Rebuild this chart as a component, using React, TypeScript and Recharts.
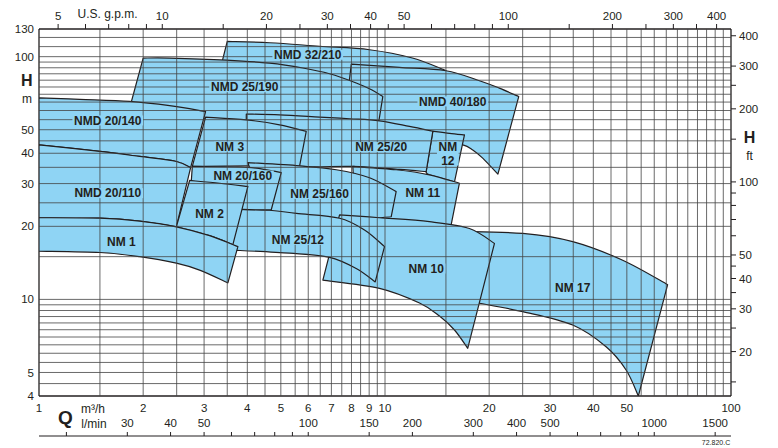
import React from "react";
import { ComposedChart, XAxis, YAxis, Scatter, ReferenceLine } from "recharts";

// Pump working fields, as [flow Q m³/h, head H m].
// top = largest impeller curve, bottom = smallest, both left to right;
// the side edges are the straight lines joining their ends.
const nmd32_210_top: [number, number][] = [[3.5, 115.5], [4.64, 114.1], [6.47, 110.4], [9.02, 106.8], [12.0, 98.7], [15.0, 87.7]];
const nmd32_210_bottom: [number, number][] = [[3.2, 69.7], [5.66, 69.7], [9.64, 66.4], [14.6, 66.4]];
const nmd40_180_top: [number, number][] = [[7.99, 93.2], [11.0, 90.4], [15.0, 87.5], [18.75, 79.6], [21.4, 74.2], [24.35, 68.5]];
const nmd40_180_bottom: [number, number][] = [[7.64, 53.9], [11.0, 49.0], [14.37, 44.6], [16.78, 43.3], [17.93, 41.3], [19.16, 38.2], [21.2, 32.8]];
const nmd25_190_top: [number, number][] = [[2.0, 98.7], [2.385, 98.7], [3.478, 96.8], [4.638, 94.0], [5.788, 89.8], [6.914, 85.0], [8.257, 77.9], [9.143, 73.0], [9.855, 68.5]];
const nmd25_190_bottom: [number, number][] = [[1.816, 59.3], [2.232, 60.4], [2.912, 56.5], [3.217, 53.4], [3.973, 53.4], [6.914, 53.4], [9.597, 54.1]];
const nmd20_140_top: [number, number][] = [[1, 67.7], [1.311, 66.7], [1.828, 65.4], [2.385, 62.8], [3.03, 59.4]];
const nmd20_140_bottom: [number, number][] = [[1, 43.3], [1.5, 40.7], [1.954, 38.8], [2.494, 37.0], [2.743, 34.9]];
const nmd20_110_top: [number, number][] = [[1, 43.3], [1.5, 40.7], [1.954, 38.8], [2.494, 37.0], [2.743, 34.9]];
const nmd20_110_bottom: [number, number][] = [[1, 21.7], [1.5, 21.6], [1.954, 21.0], [2.494, 19.9]];
const nm1_top: [number, number][] = [[1, 21.7], [1.5, 21.6], [1.954, 21.0], [2.494, 19.9], [3.112, 18.3], [3.757, 16.5]];
const nm1_bottom: [number, number][] = [[1, 15.8], [1.5, 15.6], [1.954, 15.0], [2.494, 14.1], [2.912, 13.2], [3.515, 11.7]];
const nm12_top: [number, number][] = [[13.75, 49.3], [15.36, 48.3], [16.97, 47.6]];
const nm12_bottom: [number, number][] = [[13.15, 33.6], [13.44, 32.6], [15.88, 30.5]];
const nm25_20_top: [number, number][] = [[3.973, 58.0], [4.958, 57.6], [6.469, 56.4], [7.897, 55.5], [9.641, 54.4], [11.77, 51.6], [13.75, 49.3]];
const nm25_20_bottom: [number, number][] = [[3.973, 37.6], [5.662, 35.3], [8.072, 35.3], [11.01, 34.3], [13.15, 33.6]];
const nm3_top: [number, number][] = [[3.03, 56.4], [3.973, 54.9], [4.958, 52.4], [5.92, 49.2]];
const nm3_bottom: [number, number][] = [[2.774, 35.3], [4.062, 35.5], [5.662, 35.3]];
const nm11_top: [number, number][] = [[8.072, 35.3], [10.77, 34.2], [13.44, 32.6], [16.41, 30.1]];
const nm11_bottom: [number, number][] = [[8.164, 25.7], [10.3, 20.4], [15.53, 20.3]];
const nm17_top: [number, number][] = [[16.41, 19.05], [25.01, 18.7], [34.87, 17.3], [48.64, 14.5], [65.6, 11.5]];
const nm17_bottom: [number, number][] = [[16.41, 9.95], [18.75, 9.64], [25.01, 8.9], [34.87, 7.84], [43.55, 6.38], [49.75, 5.12], [53.99, 4.0]];
const nm25_160_top: [number, number][] = [[4.016, 36.6], [5.662, 35.5], [7.229, 34.2], [9.022, 31.7], [10.77, 27.8]];
const nm25_160_bottom: [number, number][] = [[4.486, 22.5], [5.542, 22.1], [7.389, 21.1], [10.42, 21.9]];
const nm10_top: [number, number][] = [[7.389, 22.3], [9.641, 21.7], [13.44, 20.9], [17.54, 19.6], [20.72, 17.0]];
const nm10_bottom: [number, number][] = [[6.613, 12.0], [9.641, 11.1], [12.58, 9.66], [14.37, 8.54], [15.88, 7.48], [17.34, 6.29]];
const nm25_12_top: [number, number][] = [[3.508, 23.5], [4.638, 23.3], [5.542, 22.6], [7.389, 21.6], [8.726, 19.3], [9.967, 16.5]];
const nm25_12_bottom: [number, number][] = [[3.508, 16.0], [5.3, 15.5], [6.914, 14.9], [8.257, 13.4], [9.37, 11.8]];
const nm20_160_top: [number, number][] = [[2.774, 35.3], [4.008, 35.0], [5.013, 33.3]];
const nm20_160_bottom: [number, number][] = [[2.725, 24.5], [3.884, 23.5], [4.691, 23.4]];
const nm2_top: [number, number][] = [[2.725, 30.9], [3.326, 30.1], [4.016, 29.2]];
const nm2_bottom: [number, number][] = [[2.494, 19.9], [3.112, 18.3], [3.634, 16.8]];

// back to front, so that hidden edges end up under the next field
const PUMPS = [
  { name: "NMD 32/210", top: nmd32_210_top, bottom: nmd32_210_bottom },
  { name: "NMD 40/180", top: nmd40_180_top, bottom: nmd40_180_bottom },
  { name: "NMD 25/190", top: nmd25_190_top, bottom: nmd25_190_bottom },
  { name: "NMD 20/140", top: nmd20_140_top, bottom: nmd20_140_bottom },
  { name: "NMD 20/110", top: nmd20_110_top, bottom: nmd20_110_bottom },
  { name: "NM 12", top: nm12_top, bottom: nm12_bottom },
  { name: "NM 25/20", top: nm25_20_top, bottom: nm25_20_bottom },
  { name: "NM 3", top: nm3_top, bottom: nm3_bottom },
  { name: "NM 11", top: nm11_top, bottom: nm11_bottom },
  { name: "NM 17", top: nm17_top, bottom: nm17_bottom },
  { name: "NM 25/160", top: nm25_160_top, bottom: nm25_160_bottom },
  { name: "NM 10", top: nm10_top, bottom: nm10_bottom },
  { name: "NM 25/12", top: nm25_12_top, bottom: nm25_12_bottom },
  { name: "NM 20/160", top: nm20_160_top, bottom: nm20_160_bottom },
  { name: "NM 2", top: nm2_top, bottom: nm2_bottom },
  { name: "NM 1", top: nm1_top, bottom: nm1_bottom },
];

const LABELS = [
  { name: "NMD 32/210", q: 5.98, h: 101.8 },
  { name: "NMD 25/190", q: 3.93, h: 74.9 },
  { name: "NMD 40/180", q: 15.7, h: 65.4 },
  { name: "NMD 20/140", q: 1.58, h: 54.6 },
  { name: "NM 3", q: 3.56, h: 42.6 },
  { name: "NM 25/20", q: 9.75, h: 42.4 },
  { name: "NM\n12", q: 15.19, h: 39.9 },
  { name: "NM 20/160", q: 3.88, h: 32.4 },
  { name: "NMD 20/110", q: 1.58, h: 27.4 },
  { name: "NM 25/160", q: 6.47, h: 27.2 },
  { name: "NM 11", q: 12.86, h: 27.4 },
  { name: "NM 2", q: 3.11, h: 22.6 },
  { name: "NM 1", q: 1.73, h: 17.3 },
  { name: "NM 25/12", q: 5.6, h: 17.6 },
  { name: "NM 10", q: 13.15, h: 13.4 },
  { name: "NM 17", q: 34.87, h: 11.2 },
];

const M3H_TICKS = [1, 2, 3, 4, 5, 6, 7, 8, 9, 10, 20, 30, 40, 50, 100];
const LMIN_TICKS = [20, 30, 40, 50, 60, 70, 80, 90, 100, 150, 200, 300, 400, 500, 600, 700, 800, 900, 1000, 1500];
const LMIN_LABELS = [30, 40, 50, 100, 150, 200, 300, 400, 500, 1000, 1500];
const GPM_TICKS = [5, 6, 7, 8, 9, 10, 15, 20, 25, 30, 35, 40, 45, 50, 60, 70, 80, 90, 100, 150, 200, 250, 300, 350, 400];
const GPM_LABELS = [5, 10, 20, 30, 40, 50, 100, 200, 300, 400];
const H_TICKS = [4, 5, 10, 20, 30, 40, 50, 100, 130];
const FT_TICKS = [15, 20, 25, 30, 35, 40, 45, 50, 60, 70, 80, 90, 100, 150, 200, 250, 300, 400];
const FT_LABELS = [20, 30, 40, 50, 100, 200, 300, 400];

const Q_GRID = [1.5, 2, 2.5, 3, 3.5, 4, 4.5, 5, 5.5, 6, 6.5, 7, 7.5, 8, 8.5, 9, 9.5, 10, 15, 20, 25, 30, 35, 40, 45, 50, 55, 60, 65, 70, 75, 80, 85, 90, 95];
const H_GRID = [4.5, 5, 5.5, 6, 6.5, 7, 7.5, 8, 8.5, 9, 9.5, 10, 15, 20, 25, 30, 35, 40, 45, 50, 55, 60, 65, 70, 75, 80, 85, 90, 95, 100, 110, 120];

const FILL = "#8fd4f4";
const INK = "#231f20";
const GRID = "#444";
const FONT = '"Liberation Sans", Arial, Helvetica, sans-serif';
const TICK = { fill: INK, fontSize: 11.5 };

// unit conversions for the secondary scales
const GPM_PER_M3H = 4.40287;
const LMIN_PER_M3H = 16.6667;
const FT_PER_M = 3.28084;

function only(list: number[]) {
  return (v: number) => (list.includes(v) ? String(v) : "");
}

// Catmull-Rom through the points, as cubic Béziers (no leading M)
function spline(p: { x: number; y: number }[]) {
  let d = "";
  for (let i = 0; i < p.length - 1; i++) {
    const p0 = p[i - 1] || p[i];
    const p1 = p[i];
    const p2 = p[i + 1];
    const p3 = p[i + 2] || p2;
    const c1x = p1.x + (p2.x - p0.x) / 6;
    const c1y = p1.y + (p2.y - p0.y) / 6;
    const c2x = p2.x - (p3.x - p1.x) / 6;
    const c2y = p2.y - (p3.y - p1.y) / 6;
    d += `C${c1x},${c1y} ${c2x},${c2y} ${p2.x},${p2.y}`;
  }
  return d;
}

function outliner(nTop: number) {
  return (props: any) => {
    const pts = props.points || [];
    if (pts.length < 2) return <g />;
    const top = pts.slice(0, nTop);
    const back = pts.slice(nTop);
    const d =
      `M${top[0].x},${top[0].y}` + spline(top) + `L${back[0].x},${back[0].y}` + spline(back) + "Z";
    return <path d={d} fill={FILL} stroke={INK} strokeWidth={1.2} strokeLinejoin="round" />;
  };
}

function noDot() {
  return <g />;
}

function charW(ch: string) {
  if (ch === "M") return 10;
  if (/[A-Z]/.test(ch)) return 8.7;
  if (/[0-9]/.test(ch)) return 6.7;
  return 3.4;
}

function PumpLabel(props: any) {
  const { cx, cy, payload } = props;
  if (cx == null || cy == null) return <g />;
  const lines = String(payload.name).split("\n");
  const w = Math.max(...lines.map((l) => l.split("").reduce((s, c) => s + charW(c), 0))) + 3;
  const lh = 14;
  const h = (lines.length - 1) * lh + 10;
  return (
    <g>
      <rect x={cx - w / 2} y={cy - h / 2} width={w} height={h} fill={FILL} />
      {lines.map((l, i) => (
        <text
          key={i}
          x={cx}
          y={cy - ((lines.length - 1) * lh) / 2 + i * lh}
          dy="0.36em"
          textAnchor="middle"
          fontFamily={FONT}
          fontWeight="bold"
          fontSize={12}
          fill={INK}
        >
          {l}
        </text>
      ))}
    </g>
  );
}

function Note({ x, y, size = 12, bold = false, children }: any) {
  return (
    <div
      style={{
        position: "absolute",
        left: x,
        top: y,
        transform: "translate(-50%, -50%)",
        fontSize: size,
        fontWeight: bold ? "bold" : "normal",
        lineHeight: 1,
        whiteSpace: "nowrap",
      }}
    >
      {children}
    </div>
  );
}

export default function App() {
  const frame = { stroke: INK, strokeWidth: 1.3 };
  return (
    <div
      style={{
        position: "absolute",
        left: 0,
        top: 0,
        width: 778,
        height: 448,
        background: "#fff",
        fontFamily: FONT,
        color: INK,
      }}
    >
      <ComposedChart width={778} height={448} data={LABELS} margin={{ top: 0, right: 0, bottom: 0, left: 0 }}>
        <XAxis
          xAxisId="gpm"
          dataKey="q"
          orientation="top"
          type="number"
          scale="log"
          domain={[GPM_PER_M3H, 100 * GPM_PER_M3H]}
          allowDataOverflow
          ticks={GPM_TICKS}
          interval={0}
          height={29}
          tickSize={5}
          tickMargin={4}
          tick={TICK}
          tickLine={{ stroke: INK }}
          axisLine={frame}
          tickFormatter={only(GPM_LABELS)}
        />
        <XAxis
          xAxisId="a_m3h"
          dataKey="q"
          orientation="bottom"
          type="number"
          scale="log"
          domain={[1, 100]}
          allowDataOverflow
          ticks={M3H_TICKS}
          interval={0}
          height={40}
          tickLine={false}
          tickSize={6}
          tickMargin={2}
          tick={TICK}
          axisLine={frame}
        />
        <XAxis
          xAxisId="b_lmin"
          dataKey="q"
          orientation="bottom"
          type="number"
          scale="log"
          domain={[LMIN_PER_M3H, 100 * LMIN_PER_M3H]}
          allowDataOverflow
          ticks={LMIN_TICKS}
          interval={0}
          height={12}
          tickSize={-4}
          tickMargin={-13}
          tick={TICK}
          tickLine={{ stroke: INK }}
          axisLine={{ stroke: INK, strokeWidth: 1.2 }}
          tickFormatter={only(LMIN_LABELS)}
        />
        <YAxis
          yAxisId="m"
          dataKey="h"
          orientation="left"
          type="number"
          scale="log"
          domain={[4, 130]}
          allowDataOverflow
          ticks={H_TICKS}
          interval={0}
          width={39}
          tickLine={false}
          tickSize={3}
          tickMargin={2}
          tick={TICK}
          axisLine={frame}
        />
        <YAxis
          yAxisId="ft"
          orientation="right"
          type="number"
          scale="log"
          domain={[4 * FT_PER_M, 130 * FT_PER_M]}
          allowDataOverflow
          ticks={FT_TICKS}
          interval={0}
          width={47}
          tickSize={5}
          tickMargin={3}
          tick={TICK}
          tickLine={{ stroke: INK }}
          axisLine={frame}
          tickFormatter={only(FT_LABELS)}
        />

        {PUMPS.map((p) => (
          <Scatter
            key={p.name}
            name={p.name}
            data={[...p.top, ...p.bottom.slice().reverse()].map(([q, h]) => ({ q, h }))}
            xAxisId="a_m3h"
            yAxisId="m"
            line={outliner(p.top.length)}
            shape={noDot}
            legendType="none"
            isAnimationActive={false}
            zIndex={600}
          />
        ))}

        {Q_GRID.map((q) => (
          <ReferenceLine key={"q" + q} x={q} xAxisId="a_m3h" yAxisId="m" stroke={GRID} strokeWidth={0.8} zIndex={650} />
        ))}
        {H_GRID.map((h) => (
          <ReferenceLine key={"h" + h} y={h} xAxisId="a_m3h" yAxisId="m" stroke={GRID} strokeWidth={0.8} zIndex={650} />
        ))}

        <Scatter
          data={LABELS}
          xAxisId="a_m3h"
          yAxisId="m"
          shape={PumpLabel}
          legendType="none"
          isAnimationActive={false}
          zIndex={700}
        />
      </ComposedChart>

      <Note x={107.5} y={14}>U.S. g.p.m.</Note>
      <Note x={26.7} y={81} size={16} bold>H</Note>
      <Note x={27} y={98.5}>m</Note>
      <Note x={749.5} y={138} size={16} bold>H</Note>
      <Note x={749.5} y={156}>ft</Note>
      <Note x={65.5} y={417} size={19} bold>Q</Note>
      <Note x={93} y={409}>m³/h</Note>
      <Note x={94} y={424}>l/min</Note>
      <Note x={716} y={442} size={7}>72.820.C</Note>
    </div>
  );
}
